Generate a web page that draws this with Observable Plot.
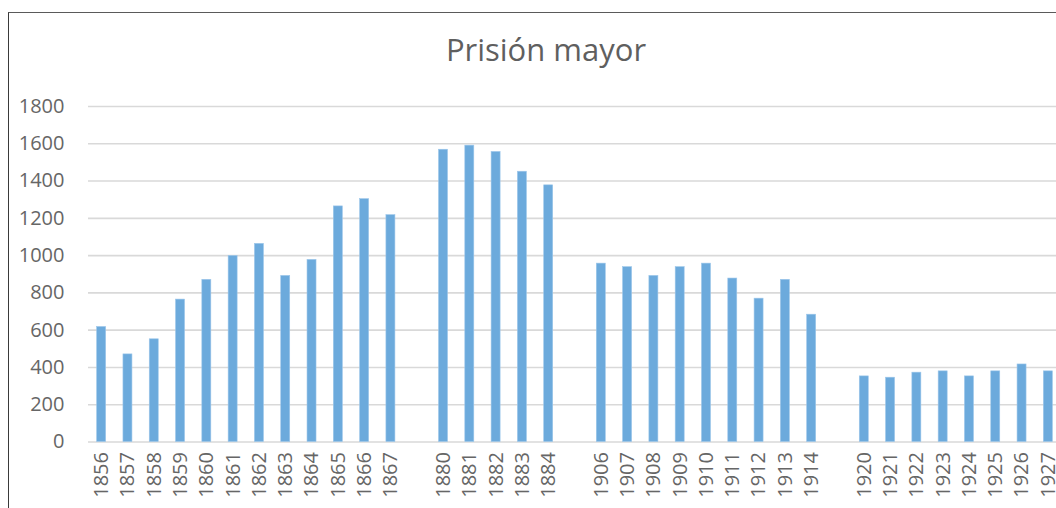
<!DOCTYPE html>
<html>
<head>
<meta charset="utf-8">
<script src="https://cdn.jsdelivr.net/npm/d3@7"></script>
<script src="https://cdn.jsdelivr.net/npm/@observablehq/plot@0.6"></script>
<style>
  html, body { margin: 0; padding: 0; background: #fff; }
  #wrap { position: relative; width: 1056px; height: 508px; overflow: hidden; background: #fff; }
  #frame { position: absolute; left: 8px; top: 12px; width: 1100px; height: 600px;
           border-left: 1.5px solid #3a3a3a; border-top: 1.5px solid #5a5a5a; }
  #title { position: absolute; left: 0; top: 28px; width: 1092px; text-align: center;
           font-family: "Open Sans", sans-serif; font-size: 31px; color: #5f5f5f; }
  #chart { position: absolute; left: 0; top: 0; }
  #chart svg { max-width: none !important; }
</style>
</head>
<body>
<div id="wrap">
  <div id="frame"></div>
  <div id="title">Prisión mayor</div>
  <div id="chart"></div>
</div>
<script>
const years1 = ["1856","1857","1858","1859","1860","1861","1862","1863","1864","1865","1866","1867"];
const values1 = [617, 470, 551, 764, 870, 998, 1063, 891, 977, 1264, 1303, 1217];
const years2 = ["1880","1881","1882","1883","1884"];
const values2 = [1568, 1590, 1556, 1450, 1377];
const years3 = ["1906","1907","1908","1909","1910","1911","1912","1913","1914"];
const values3 = [957, 938, 891, 938, 957, 877, 769, 870, 683];
const years4 = ["1920","1921","1922","1923","1924","1925","1926","1927"];
const values4 = [352, 345, 372, 379, 352, 379, 416, 379];
const yTicks = [0, 200, 400, 600, 800, 1000, 1200, 1400, 1600, 1800];

const groups = [[years1, values1], [years2, values2], [years3, values3], [years4, values4]];
const domain = [];
const data = [];
groups.forEach(([ys, vs], gi) => {
  if (gi > 0) domain.push("gap" + gi);
  ys.forEach((y, i) => { domain.push(y); data.push({year: y, value: vs[i]}); });
});
const labelYears = data.map(d => d.year);

const p = 0.658;
const chart = Plot.plot({
  width: 1061,
  height: 510,
  marginLeft: 88,
  marginRight: 0,
  marginTop: 106,
  marginBottom: 68.5,
  style: {fontFamily: "Open Sans, sans-serif", fontSize: "20px", color: "#666", background: "transparent", maxWidth: "none"},
  x: {type: "band", domain, paddingInner: p, paddingOuter: p / 2, round: false, label: null},
  y: {domain: [0, 1800], label: null},
  marks: [
    Plot.ruleY(yTicks, {stroke: "#d9d9d9", strokeWidth: 1.6}),
    Plot.barY(data, {x: "year", y: "value", fill: "#6caadc", stroke: "#9cc6ea", strokeWidth: 0.6}),
    Plot.axisY({ticks: yTicks, tickFormat: d => String(d), tickSize: 0, tickPadding: 24, fill: "#666", fontSize: 20}),
    Plot.axisX({ticks: labelYears, tickSize: 0, tickPadding: 10, tickRotate: -90, fill: "#666", fontSize: 20})
  ]
});
document.getElementById("chart").appendChild(chart);
</script>
</body>
</html>
